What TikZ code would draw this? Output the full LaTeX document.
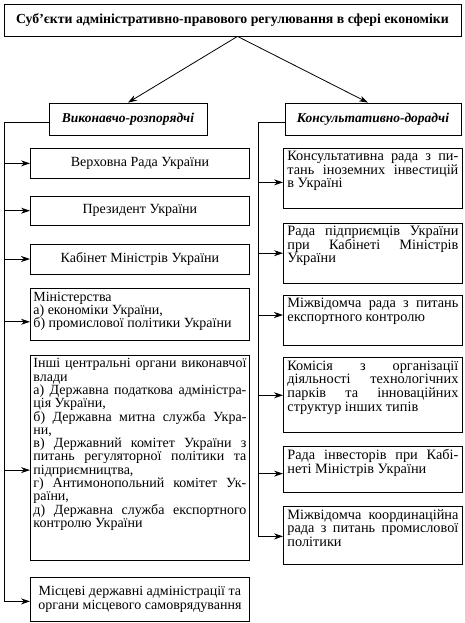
\documentclass[tikz,border=0pt]{standalone}
\usepackage{fontspec}
\setmainfont{Liberation Serif}
\usetikzlibrary{arrows.meta, positioning}
\tikzset{>={Stealth[length=9pt,width=6pt]}}
\setlength{\lineskiplimit}{-20pt}
\newcommand{\jl}[1]{\makebox[\linewidth][s]{#1}\\}

\begin{document}
\begin{tikzpicture}[x=1pt, y=-1pt, line width=0.8pt,
    font=\fontsize{14}{13.3}\selectfont,
    col/.style n args={4}{draw, inner xsep=3pt, inner ysep=3pt,
        execute at begin node={\begin{minipage}[c][\dimexpr#2-6pt\relax][#3]{#1}#4},
        execute at end node={\end{minipage}}},
    lbox/.style={col={213pt}{#1}{t}{\relax}},
    cbox/.style={col={213pt}{#1}{c}{\centering}},
    rbox/.style={col={171pt}{#1}{t}{\relax}, inner xsep=4pt,
        font=\fontsize{14.3}{13.6}\selectfont},
    head/.style={draw, minimum height=32pt,
        font=\bfseries\itshape\fontsize{13.5}{14}\selectfont}]
    \useasboundingbox (0,0) rectangle (464,623);

    % title and the two groups
    \node (top) [draw, minimum width=457pt, minimum height=32pt,
        font=\bfseries\fontsize{13.8}{15}\selectfont] at (232.5,20)
        {Суб’єкти адміністративно-правового регулювання в сфері економіки};
    \node (vr) [head, minimum width=158pt] at (128,119) {Виконавчо-розпорядчі};
    \node (kd) [head, minimum width=176pt] at (373,119) {Консультативно-дорадчі};
    \draw[->] ([xshift=5]top.south) -- (vr.north);
    \draw[->] ([xshift=5]top.south) -- ([xshift=-5]kd.north);

    % left column
    \node (l1) [cbox=30pt, anchor=north west] at (30,148) {Верховна Рада України};
    \node (l2) [cbox=29pt, below=17pt of l1] {Президент України};
    \node (l3) [cbox=30pt, below=18pt of l2] {Кабінет Міністрів України};
    \node (l4) [lbox=52pt, below=14pt of l3] {Міністерства\\
        а) економіки України,\\
        б) промислової політики України};
    \node (l5) [lbox=205pt, below=14pt of l4] {\jl{Інші центральні органи виконавчої}влади\\
        \jl{а) Державна податкова адміністра-}ція України,\\
        \jl{б) Державна митна служба Укра-}ни,\\
        \jl{в) Державний комітет України з}\jl{питань регуляторної політики та}підприємництва,\\
        \jl{г) Антимонопольний комітет Ук-}раїни,\\
        \jl{д) Державна служба експортного}контролю України};
    \node (l6) [cbox=44pt, below=16pt of l5] {Місцеві державні адміністрації та\\
        органи місцевого самоврядування};

    % right column
    \node (r1) [rbox=60pt, anchor=north west] at (283,148) {\jl{Консультативна рада з пи-}\jl{тань іноземних інвестицій}в Україні};
    \node (r2) [rbox=60pt, below=14pt of r1] {\jl{Рада підприємців України}\jl{при Кабінеті Міністрів}України};
    \node (r3) [rbox=50pt, below=11pt of r2] {\jl{Міжвідомча рада з питань}експортного контролю};
    \node (r4) [rbox=75pt, below=12pt of r3] {\jl{Комісія з організації}\jl{діяльності технологічних}\jl{парків та інноваційних}структур інших типів};
    \node (r5) [rbox=46pt, below=13pt of r4] {\jl{Рада інвесторів при Кабі-}неті Міністрів України};
    \node (r6) [rbox=58pt, below=13pt of r5] {\jl{Міжвідомча координаційна}\jl{рада з питань промислової}політики};

    % buses
    \coordinate (lbus) at (4,0);
    \coordinate (rbus) at (258,0);
    \foreach \n/\d in {l1/0,l2/0,l3/0,l4/7,l5/12,l6/2,r1/4,r2/0,r3/-5,r4/0,r5/4,r6/1}
        \coordinate (a\n) at ([yshift=-\d]\n.west);
    \draw ([yshift=-3]vr.west) -| (lbus |- al6);
    \draw ([yshift=-3]kd.west) -| (rbus |- ar6);
    \foreach \n in {l1,l2,l3,l4,l5,l6}
        \draw[->] (lbus |- a\n) -- (a\n);
    \foreach \n in {r1,r2,r3,r4,r5,r6}
        \draw[->] (rbus |- a\n) -- (a\n);
\end{tikzpicture}
\end{document}
